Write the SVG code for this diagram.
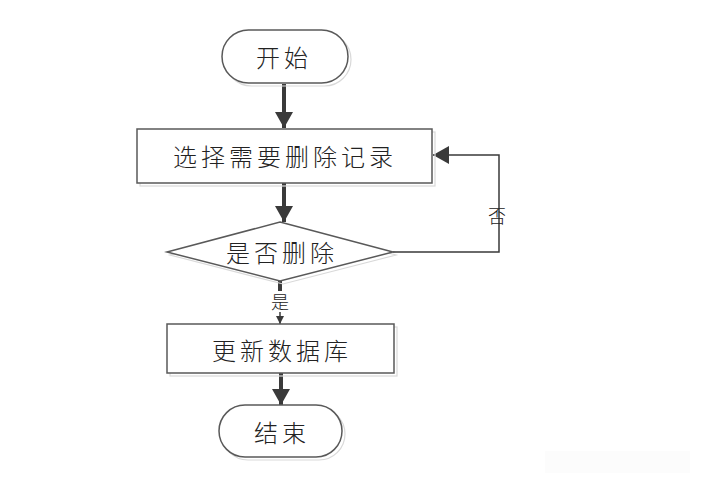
<svg xmlns="http://www.w3.org/2000/svg" width="702" height="482" viewBox="0 0 702 482">
<style>
.shape{fill:#fff;stroke:#595959;stroke-width:1.5}
.shadow{fill:none;stroke:#d9d9d9;stroke-width:1.2}
.t{font-family:"Noto Sans CJK SC","Noto Sans",sans-serif;font-size:24px;font-weight:300;letter-spacing:4px;fill:#222;text-anchor:middle;dominant-baseline:central}
.lbl{font-family:"Noto Sans CJK SC","Noto Sans",sans-serif;font-size:18px;font-weight:300;fill:#222;text-anchor:middle;dominant-baseline:central}
.thick{stroke:#3a3a3a;stroke-width:4;fill:none}
.thin{stroke:#3a3a3a;stroke-width:1.5;fill:none}
</style>
<defs>
<marker id="big" markerUnits="userSpaceOnUse" markerWidth="18" markerHeight="18" refX="16" refY="9" orient="auto">
<path d="M0,0 L16,9 L0,18 Z" fill="#3a3a3a"/>
</marker>
<marker id="small" markerUnits="userSpaceOnUse" markerWidth="10" markerHeight="10" refX="8" refY="4" orient="auto">
<path d="M0,0 L8,4 L0,8 Z" fill="#3a3a3a"/>
</marker>
</defs>
<rect x="545" y="451" width="145" height="22" fill="#fcfcfc"/>
<g id="connectors">
<line class="thick" x1="284" y1="84" x2="284" y2="128" marker-end="url(#big)"/>
<line class="thick" x1="284" y1="183" x2="284" y2="222" marker-end="url(#big)"/>
<polyline class="thin" points="393,252 499,252 499,155 433,155" marker-end="url(#big)"/>
<line class="thick" x1="280" y1="281" x2="280" y2="291"/>
<line class="thin" x1="280" y1="312" x2="280" y2="324" marker-end="url(#small)"/>
<line class="thick" x1="281" y1="373" x2="281" y2="405" marker-end="url(#big)"/>
<text class="lbl" x="497" y="215">否</text>
<text class="lbl" x="280" y="301">是</text>
</g>
<g id="start">
<rect class="shadow" x="225" y="33" width="126" height="53" rx="26.5"/>
<rect class="shape" x="222" y="30" width="126" height="53" rx="26.5"/>
<text class="t" x="284" y="56">开始</text>
</g>
<g id="select">
<rect class="shadow" x="140" y="132" width="295" height="54"/>
<rect class="shape" x="137" y="129" width="295" height="54"/>
<text class="t" x="285" y="155">选择需要删除记录</text>
</g>
<g id="decide">
<polygon class="shadow" points="283,225 396,255 283,284 170,255"/>
<polygon class="shape" points="280,222 393,252 280,281 167,252"/>
<text class="t" x="282" y="251">是否删除</text>
</g>
<g id="update">
<rect class="shadow" x="170" y="327" width="227" height="49"/>
<rect class="shape" x="167" y="324" width="227" height="49"/>
<text class="t" x="282" y="349">更新数据库</text>
</g>
<g id="end">
<rect class="shadow" x="222" y="408" width="123" height="52" rx="26"/>
<rect class="shape" x="219" y="405" width="123" height="52" rx="26"/>
<text class="t" x="282" y="431">结束</text>
</g>
</svg>
